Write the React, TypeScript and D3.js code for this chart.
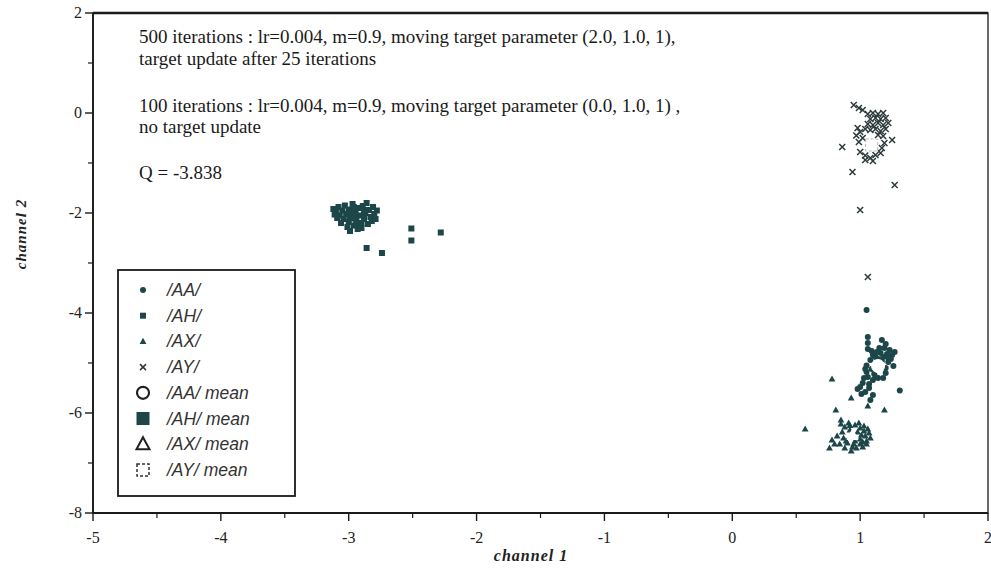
import React from "react";
import * as d3 from "d3";

// Axis ranges and tick values
const xDomain: [number, number] = [-5, 2];
const yDomain: [number, number] = [-8, 2];
const xMajorTicks = [-5, -4, -3, -2, -1, 0, 1, 2];
const xMinorTicks = [-4.5, -3.5, -2.5, -1.5, -0.5, 0.5, 1.5];
const yMajorTicks = [2, 0, -2, -4, -6, -8];
const yMinorTicks = [1, -1, -3, -5, -7];

// Annotation lines
const notes = [
  "500 iterations : lr=0.004, m=0.9, moving target parameter (2.0, 1.0, 1),",
  "target update after 25 iterations",
  "100 iterations : lr=0.004, m=0.9, moving target parameter (0.0, 1.0, 1) ,",
  "no target update",
  "Q = -3.838",
];

// Phoneme samples [channel 1, channel 2]
const aaPoints: [number, number][] = [
  [1.05, -3.94], [1.06, -4.48], [1.06, -4.6], [1.17, -4.54], [1.2, -4.62], [1.23, -4.74],
  [1.25, -4.84], [1.21, -4.82], [1.15, -4.7], [1.1, -4.84], [1.08, -4.94], [1.13, -4.78],
  [1.18, -4.88], [1.24, -4.92], [1.06, -4.72], [1.05, -5.18], [1.06, -5.28], [1.1, -5.34],
  [1.02, -5.4], [1.0, -5.48], [1.04, -5.58], [1.1, -5.64], [1.08, -5.74], [1.31, -5.55],
  [1.14, -5.3], [1.2, -5.2], [1.05, -5.05], [1.04, -5.12], [1.07, -5.42], [0.98, -5.52],
  [1.22, -4.98], [1.26, -5.06], [1.18, -5.3], [1.12, -4.88], [1.16, -4.8], [1.03, -5.3],
  [1.19, -4.7], [1.22, -4.9], [1.14, -4.92], [1.09, -4.76], [1.11, -5.22], [1.07, -5.5],
  [1.01, -5.62], [1.12, -5.28], [1.2, -5.1], [1.17, -4.96], [1.27, -4.78], [1.09, -5.12],
];
const ahPoints: [number, number][] = [
  [-3.12, -1.92], [-3.1, -1.98], [-3.08, -1.88], [-3.07, -2.05], [-3.05, -1.95], [-3.04, -2.12],
  [-3.03, -1.85], [-3.02, -2.02], [-3.0, -2.18], [-3.0, -1.93], [-2.98, -2.08], [-2.97, -1.82],
  [-2.96, -2.25], [-2.95, -1.98], [-2.94, -2.14], [-2.93, -2.32], [-2.92, -1.9], [-2.91, -2.05],
  [-2.9, -2.2], [-2.89, -1.86], [-2.88, -2.12], [-2.87, -2.0], [-2.86, -1.8], [-2.85, -2.22],
  [-2.84, -1.94], [-2.83, -2.08], [-2.82, -2.16], [-2.81, -1.88], [-2.8, -2.02], [-2.79, -2.12],
  [-2.78, -1.95], [-3.09, -2.1], [-3.06, -2.2], [-3.01, -2.28], [-2.99, -2.36], [-2.94, -2.22],
  [-2.9, -2.3], [-2.96, -1.88], [-3.11, -2.03], [-2.88, -1.94],
  [-2.86, -2.7], [-2.74, -2.8], [-2.51, -2.31], [-2.51, -2.55], [-2.28, -2.39],
];
const axPoints: [number, number][] = [
  [0.78, -5.32], [0.93, -5.7], [1.06, -5.86], [1.19, -5.94], [0.81, -5.94], [0.57, -6.32],
  [0.85, -6.14], [0.78, -6.54], [0.76, -6.7], [0.88, -6.7], [1.02, -6.68],
  [0.88, -6.28], [0.92, -6.25], [0.96, -6.24], [1.0, -6.3], [1.03, -6.36], [0.86, -6.38],
  [0.98, -6.38], [1.04, -6.46], [0.87, -6.5], [1.0, -6.52], [1.05, -6.56], [0.9, -6.6],
  [0.95, -6.62], [1.0, -6.62], [0.84, -6.62], [0.92, -6.34], [0.96, -6.56], [0.82, -6.46],
  [0.8, -6.62], [1.07, -6.4], [0.97, -6.7], [0.85, -6.22], [0.93, -6.76],
  [0.99, -6.2], [1.03, -6.26], [1.06, -6.32], [1.08, -6.5], [1.02, -6.58], [0.94, -6.68],
  [0.89, -6.56], [0.91, -6.2], [1.01, -6.44], [1.05, -6.62],
];
const ayPoints: [number, number][] = [
  [0.95, 0.16], [0.99, 0.1], [1.02, 0.06], [0.86, -0.68], [1.25, -0.54], [0.94, -1.18],
  [1.27, -1.44], [1.0, -1.94], [1.06, -3.28],
  [1.06, -0.02], [1.1, 0.0], [1.14, -0.02], [1.18, 0.0], [1.08, -0.12], [1.12, -0.1],
  [1.16, -0.12], [1.2, -0.1], [1.22, -0.2], [1.06, -0.22], [1.1, -0.24], [1.14, -0.2],
  [1.18, -0.24], [1.04, -0.32], [1.08, -0.34], [1.12, -0.32], [1.16, -0.36], [1.2, -0.32],
  [1.14, -0.44], [1.18, -0.46], [0.98, -0.3], [1.0, -0.38], [0.97, -0.45], [1.02, -0.5],
  [0.99, -0.58], [1.0, -0.78], [1.04, -0.85], [1.08, -0.9], [1.12, -0.84], [1.16, -0.8],
  [1.04, -0.94], [1.1, -0.96], [1.17, -0.7], [1.19, -0.6],
];

// Class means
const aaMean: [number, number] = [1.14, -5.06];
const ahMean: [number, number] = [-2.97, -2.05];
const axMean: [number, number] = [0.94, -6.44];
const ayMean: [number, number] = [1.09, -0.64];

const legendLabels = [
  "/AA/", "/AH/", "/AX/", "/AY/", "/AA/ mean", "/AH/ mean", "/AX/ mean", "/AY/ mean",
];

const INK = "#1d4649";
const SERIF = "'Liberation Serif', 'DejaVu Serif', serif";
const SANS = "'Liberation Sans', Arial, sans-serif";

const W = 991;
const H = 569;
const plot = { left: 93, right: 988, top: 13, bottom: 513 };

const x = d3.scaleLinear().domain(xDomain).range([plot.left, plot.right]);
const y = d3.scaleLinear().domain(yDomain).range([plot.bottom, plot.top]);

const dot = (cx: number, cy: number, k: string) => (
  <circle key={k} cx={cx} cy={cy} r={3} fill={INK} />
);
const sq = (cx: number, cy: number, k: string) => (
  <rect key={k} x={cx - 3} y={cy - 3} width={6} height={6} fill={INK} />
);
const tri = (cx: number, cy: number, k: string) => (
  <path key={k} d={`M${cx},${cy - 3.6}L${cx + 3.4},${cy + 2.6}L${cx - 3.4},${cy + 2.6}Z`} fill={INK} />
);
const cross = (cx: number, cy: number, k: string) => (
  <path
    key={k}
    d={`M${cx - 3},${cy - 3}L${cx + 3},${cy + 3}M${cx + 3},${cy - 3}L${cx - 3},${cy + 3}`}
    stroke="#2c3a3c"
    strokeWidth={1.5}
    fill="none"
  />
);

export default function App() {
  const legendX = 118;
  const legendY = 270;
  const legendW = 177;
  const legendH = 226;
  const rowY = (i: number) => 290 + i * 25.7;
  const symX = 143;

  const legendSymbols = [
    dot(symX, rowY(0), "l0"),
    sq(symX, rowY(1), "l1"),
    tri(symX, rowY(2), "l2"),
    cross(symX, rowY(3), "l3"),
    <circle key="l4" cx={symX} cy={rowY(4)} r={6} fill="none" stroke="#222" strokeWidth={2.2} />,
    <rect key="l5" x={symX - 6.5} y={rowY(5) - 6.5} width={13} height={13} fill="#1d4649" />,
    <path
      key="l6"
      d={`M${symX},${rowY(6) - 7}L${symX + 6.5},${rowY(6) + 5}L${symX - 6.5},${rowY(6) + 5}Z`}
      fill="none"
      stroke="#222"
      strokeWidth={2}
    />,
    <rect
      key="l7"
      x={symX - 6}
      y={rowY(7) - 6}
      width={12}
      height={12}
      fill="none"
      stroke="#333"
      strokeWidth={1.5}
      strokeDasharray="3 2"
    />,
  ];

  return (
    <svg
      width={W}
      height={H}
      style={{ position: "absolute", left: 0, top: 0, background: "#fff" }}
    >
      {/* frame */}
      <rect
        x={plot.left}
        y={plot.top}
        width={plot.right - plot.left}
        height={plot.bottom - plot.top}
        fill="none"
        stroke="#1a1a1a"
        strokeWidth={1.3}
      />
      <line x1={plot.left} x2={plot.right} y1={plot.top} y2={plot.top} stroke="#1a1a1a" strokeWidth={2.4} />
      <line x1={plot.left} x2={plot.right} y1={plot.bottom} y2={plot.bottom} stroke="#1a1a1a" strokeWidth={2.2} />
      <line x1={plot.left} x2={plot.left} y1={plot.top} y2={plot.bottom} stroke="#1a1a1a" strokeWidth={1.8} />

      {/* x axis ticks */}
      {xMajorTicks.map((t) => (
        <g key={`xt${t}`}>
          <line x1={x(t)} x2={x(t)} y1={plot.bottom} y2={plot.bottom + 8} stroke="#1a1a1a" strokeWidth={1.4} />
          <text x={x(t)} y={543} textAnchor="middle" fontFamily={SERIF} fontSize={16} fill="#222">
            {t < 0 ? `-${Math.abs(t)}` : t}
          </text>
        </g>
      ))}
      {xMinorTicks.map((t) => (
        <line key={`xm${t}`} x1={x(t)} x2={x(t)} y1={plot.bottom} y2={plot.bottom + 5} stroke="#1a1a1a" strokeWidth={1.2} />
      ))}

      {/* y axis ticks */}
      {yMajorTicks.map((t) => (
        <g key={`yt${t}`}>
          <line x1={plot.left - 8} x2={plot.left} y1={y(t)} y2={y(t)} stroke="#1a1a1a" strokeWidth={1.4} />
          <text x={82} y={y(t) + 5} textAnchor="end" fontFamily={SERIF} fontSize={16} fill="#222">
            {t < 0 ? `-${Math.abs(t)}` : t}
          </text>
        </g>
      ))}
      {yMinorTicks.map((t) => (
        <line key={`ym${t}`} x1={plot.left - 5} x2={plot.left} y1={y(t)} y2={y(t)} stroke="#1a1a1a" strokeWidth={1.2} />
      ))}

      {/* axis titles */}
      <text
        x={531}
        y={561}
        textAnchor="middle"
        fontFamily={SERIF}
        fontSize={16}
        fontStyle="italic"
        fontWeight="bold"
        fill="#222"
        letterSpacing={1}
      >
        channel 1
      </text>
      <text
        transform={`translate(26,${y(-2.42)}) rotate(-90)`}
        textAnchor="middle"
        fontFamily={SERIF}
        fontSize={15}
        fontStyle="italic"
        fontWeight="bold"
        fill="#222"
        letterSpacing={1}
      >
        channel 2
      </text>

      {/* annotations */}
      {notes.map((s, i) => (
        <text
          key={`n${i}`}
          x={139}
          y={[43, 65, 112, 133, 179][i]}
          fontFamily={SERIF}
          fontSize={19}
          fill="#1a1a1a"
        >
          {s}
        </text>
      ))}

      {/* samples */}
      <g>{aaPoints.map(([a, b], i) => dot(x(a), y(b), `aa${i}`))}</g>
      <g>{ahPoints.map(([a, b], i) => sq(x(a), y(b), `ah${i}`))}</g>
      <g>{axPoints.map(([a, b], i) => tri(x(a), y(b), `ax${i}`))}</g>
      <g>{ayPoints.map(([a, b], i) => cross(x(a), y(b), `ay${i}`))}</g>

      {/* means */}
      <circle cx={x(aaMean[0])} cy={y(aaMean[1])} r={6.5} fill="#fff" stroke="#fff" strokeWidth={1} />
      <rect x={x(ahMean[0]) - 6} y={y(ahMean[1]) - 6} width={12} height={12} fill={INK} />
      <path
        d={`M${x(axMean[0])},${y(axMean[1]) - 6}L${x(axMean[0]) + 5.5},${y(axMean[1]) + 4.5}L${x(axMean[0]) - 5.5},${y(axMean[1]) + 4.5}Z`}
        fill="#fff"
        stroke="#fff"
        strokeWidth={1}
      />
      <rect
        x={x(ayMean[0]) - 6}
        y={y(ayMean[1]) - 6}
        width={12}
        height={12}
        fill="#fff"
        stroke="#bbb"
        strokeWidth={1}
        strokeDasharray="3 2"
      />

      {/* legend */}
      <rect x={legendX} y={legendY} width={legendW} height={legendH} fill="#fff" stroke="#1a1a1a" strokeWidth={1.8} />
      {legendSymbols}
      {legendLabels.map((s, i) => (
        <text
          key={`lt${i}`}
          x={167}
          y={rowY(i) + 6}
          fontFamily={SANS}
          fontSize={17.5}
          fontStyle="italic"
          fill="#333"
        >
          {s}
        </text>
      ))}
    </svg>
  );
}
